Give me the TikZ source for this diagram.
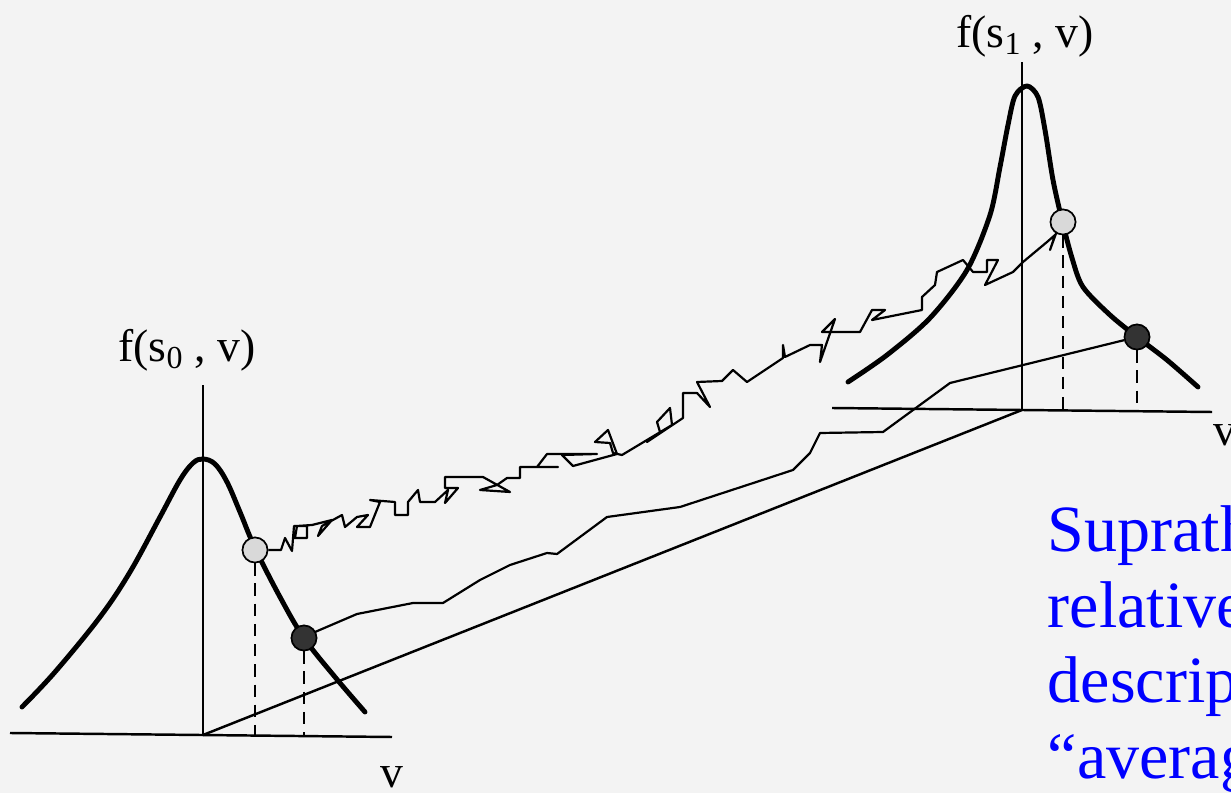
\documentclass[tikz,border=0pt]{standalone}
\usepackage{fontspec}
\setmainfont{Liberation Serif}
\usepackage{tikz}
\usetikzlibrary{calc}

\definecolor{paper}{RGB}{243,243,243}
\definecolor{slideblue}{RGB}{0,0,255}

\begin{document}
\begin{tikzpicture}[x=0.02cm, y=-0.02cm,
  every node/.style={circle, draw=black, line width=0.9pt, inner sep=0pt, minimum size=0.5cm},
  lbl/.style={draw=none, fill=none, rectangle, minimum size=0pt, inner sep=0pt, font=\fontsize{26}{30}\selectfont},
  note/.style={lbl, anchor=base west, text=slideblue, font=\fontsize{37.6}{42.7}\selectfont},
  axis/.style={line width=1.4pt},
  curve/.style={line width=2.8pt, line cap=round, line join=round},
  trace/.style={line width=1.25pt, line join=round},
  drop/.style={line width=1.5pt, dash pattern=on 7pt off 4.5pt}]

	\useasboundingbox (0,0) rectangle (1231,793);
	\clip (0,0) rectangle (1231,793);
	\fill[paper] (0,0) rectangle (1231,793);

	\coordinate (o0) at (203,735);
	\coordinate (t0) at (203,385);
	\coordinate (a0) at (10,733);
	\coordinate (b0) at (392,737);
	\coordinate (o1) at (1022,410);
	\coordinate (t1) at (1022,62);
	\coordinate (a1) at (832,408);
	\coordinate (b1) at (1212,412);

	\node[fill=gray!30] (l0) at (255,550) {};
	\node[fill=black!80] (d0) at (304,638) {};
	\node[fill=gray!30] (l1) at (1063,222) {};
	\node[fill=black!80] (d1) at (1137,337) {};

	% axes
	\draw[axis] (a0) -- (b0);
	\draw[axis] (o0) -- (t0);
	\draw[axis] (a1) -- (b1);
	\draw[axis] (o1) -- (t1);
	\draw[axis] (o0) -- (o1);

	% smooth path between the dark points
	\draw[trace] (d0) -- (315,632) -- (357,614) -- (413,603) -- (443,603) -- (480,580)
		-- (510,565) -- (547,553) -- (557,554) -- (607,517) -- (680,507) -- (793,470)
		-- (810,453) -- (820,433) -- (883,432) -- (950,383) -- (d1);

	% jagged path between the light points
	\draw[trace] (l0) -- (281,550) -- (285,538) -- (292,551) -- (294,526) -- (307,526)
		-- (307,538) -- (295,538) -- (297,526) -- (312,525) -- (332,520) -- (318,536)
		-- (322,526) -- (342,515) -- (345,527) -- (357,517) -- (368,515) -- (357,527)
		-- (370,527) -- (380,502) -- (370,500) -- (395,502) -- (395,515) -- (408,515)
		-- (408,502) -- (418,490) -- (420,502) -- (435,502) -- (448,490) -- (445,503)
		-- (458,488) -- (445,488) -- (445,477) -- (483,477) -- (510,492) -- (480,490)
		-- (497,485) -- (507,478) -- (520,478) -- (520,467) -- (558,467) -- (537,467)
		-- (547,454) -- (597,454) -- (562,455) -- (573,466) -- (617,454) -- (608,430)
		-- (595,442) -- (610,443) -- (613,453) -- (622,455) -- (672,425) -- (670,408)
		-- (657,422) -- (660,432) -- (647,442) -- (683,418) -- (683,393) -- (697,393)
		-- (710,407) -- (697,382) -- (722,381) -- (733,370) -- (747,382) -- (783,358)
		-- (783,345) -- (785,357) -- (810,345) -- (822,345) -- (820,362) -- (835,319)
		-- (822,332) -- (860,332) -- (872,310) -- (885,310) -- (872,320) -- (922,310)
		-- (922,297) -- (935,285) -- (937,272) -- (963,260) -- (973,272) -- (987,272)
		-- (987,260) -- (998,260) -- (985,285) -- (1013,272) -- (1023,262) -- (1047,242)
		-- (1055,235) -- (1050,250) -- (1058,228) -- (l1);

	% distributions
	\draw[curve] plot[smooth, tension=0.6] coordinates {(22,707) (55,672) (100,617) (130,572)
		(160,517) (180,480) (193,463) (203,459) (215,464) (227,482) (240,512) (255,548)
		(280,597) (304,638) (335,677) (365,712)};
	\draw[curve] plot[smooth, tension=0.5] coordinates {(848,382) (887,355) (930,318)
		(967,270) (990,215) (1000,167) (1008,125) (1015,96) (1027,86) (1038,97) (1045,130)
		(1053,180) (1062,220) (1072,258) (1083,287) (1110,315) (1137,337) (1167,360) (1198,387)};

	\foreach \p in {l0,d0}{
		\draw[drop] (\p.south) -- (\p.south |- o0);
	}
	\foreach \p in {l1,d1}{
		\draw[drop] (\p.south) -- (\p.south |- o1);
	}
	\node[fill=gray!30] at (l0) {};
	\node[fill=black!80] at (d0) {};
	\node[fill=gray!30] at (l1) {};
	\node[fill=black!80] at (d1) {};

	\node[lbl, anchor=base] (f0) at (187,362) {f(s\textsubscript{0} , v)};
	\node[lbl, anchor=base] (f1) at (1025,48) {f(s\textsubscript{1} , v)};
	\node[lbl, anchor=base] (v0) at (392,787) {v};
	\node[lbl, anchor=base west] (v1) at (1213,446) {v};

	\node[note] (n1) at (1047,552) {Suprath};
	\node[note] (n2) at (1047,627) {relative};
	\node[note] (n3) at (1047,703) {descrip};
	\node[note] (n4) at (1047,778) {“averag};
  \end{tikzpicture}
\end{document}
